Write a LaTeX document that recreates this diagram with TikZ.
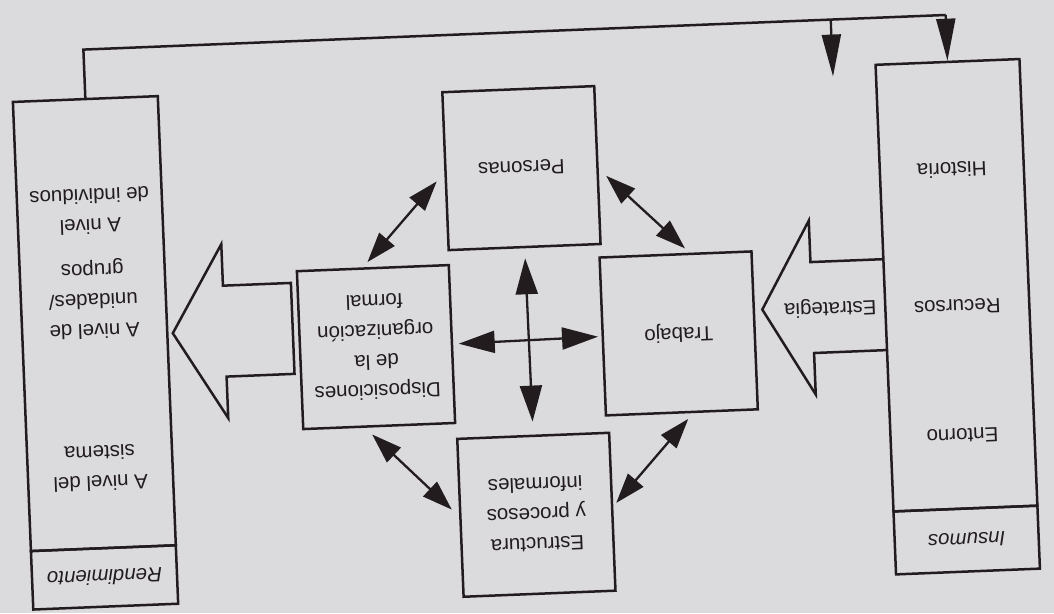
\documentclass[tikz,border=0pt]{standalone}
\usepackage{fontspec}
\setmainfont{Liberation Sans}
\usetikzlibrary{arrows.meta}
\definecolor{paper}{RGB}{219,219,222}
\definecolor{ink}{RGB}{34,28,31}
\begin{document}
\begin{tikzpicture}[x=1pt,y=1pt,
  every node/.style={font=\fontsize{20.5}{30}\selectfont, text=ink},
  box/.style={draw=ink, line width=2.5pt, minimum width=152pt, minimum height=158pt, inner sep=0pt, align=center},
  sidebox/.style={draw=ink, line width=2.5pt, inner sep=0pt, align=center},
  lbl/.style={align=center, inner sep=0pt},
  dbl/.style={draw=ink, line width=2.3pt, {Triangle[length=30pt,width=20pt]}-{Triangle[length=30pt,width=20pt]}},
  crossarr/.style={draw=ink, line width=2.3pt, {Triangle[length=36pt,width=22pt]}-{Triangle[length=36pt,width=22pt]}},
  fbarr/.style={draw=ink, line width=2.3pt, -{Triangle[length=42pt,width=19pt]}},
  blockarr/.style={draw=ink, line width=2.5pt, line join=miter},
  fbline/.style={draw=ink, line width=2.5pt}
]
\useasboundingbox (0,0) rectangle (1054,613);
\fill[paper] (0,0) rectangle (1054,613);
\begin{scope}[rotate around={182.3:(527,306.5)}, transform shape]
  % input box
  \node[sidebox, minimum width=144pt, minimum height=447pt] (insB) at (97,302.5) {};
  \node[sidebox, minimum width=144pt, minimum height=63pt, font=\fontsize{20.5}{30}\selectfont\itshape] (insH) at (97,557.5) {Insumos};
  \node[lbl] (ent) at (97,453) {Entorno};
  \node[lbl] (rec) at (97,324) {Recursos};
  \node[lbl] (his) at (97,187) {Historia};
  % output box
  \node[sidebox, minimum width=145pt, minimum height=449.5pt] (renB) at (960,306.25) {};
  \node[sidebox, minimum width=145pt, minimum height=58.5pt, font=\fontsize{20.5}{30}\selectfont\itshape] (renH) at (960,560.25) {Rendimiento};
  \node[lbl] (nsis) at (960,451) {A nivel del\\sistema};
  \node[lbl] (nuni) at (960,282) {A nivel de\\unidades/\\grupos};
  \node[lbl] (nind) at (960,194) {A nivel\\de individuos};
  % components
  \node[box] (per) at (527,168) {Personas};
  \node[box] (tra) at (376.5,339.5) {Trabajo};
  \node[box] (dis) at (679.5,341) {Disposiciones\\de la\\organización\\formal};
  \node[box] (est) at (526,515) {Estructura\\y procesos\\informales};
  % block arrows
  \draw[blockarr] (169.5,273.5) -- (242,273.5) -- (242,232) -- (292,319) -- (242,406) -- (242,364.5) -- (169.5,364.5);
  \node[lbl] (estr) at (224,320) {Estrategia};
  \draw[blockarr] (762,273.5) -- (830,273.5) -- (830,232) -- (882,319) -- (830,406) -- (830,364.5) -- (762,364.5) -- cycle;
  % cross
  \draw[crossarr, shorten <=3.5pt, shorten >=5.5pt] (tra.east) -- (dis.west);
  \draw[crossarr, shorten <=10pt, shorten >=13pt] (per.north) -- (est.south);
  % diagonals
  \draw[dbl, shorten <=11.7pt, shorten >=6.9pt] (per.1) -- (dis.277);
  \draw[dbl, shorten <=10pt, shorten >=6.3pt] (per.177.8) -- (tra.260);
  \draw[dbl, shorten <=9.7pt, shorten >=10.1pt] (dis.80.5) -- (est.359.5);
  \draw[dbl, shorten <=7.6pt, shorten >=4.4pt] (tra.98.4) -- (est.184.4);
  % feedback
  \coordinate (fbR) at (960,32);
  \coordinate (fbL) at (97,32);
  \coordinate (fbS) at (212,32);
  \coordinate (fbT) at (212,89);
  \draw[fbline] (renB.south) -- (fbR) -- (fbL);
  \draw[fbarr] (fbL) -- (insB.south);
  \draw[fbarr] (fbS) -- (fbT);
\end{scope}
\end{tikzpicture}
\end{document}
